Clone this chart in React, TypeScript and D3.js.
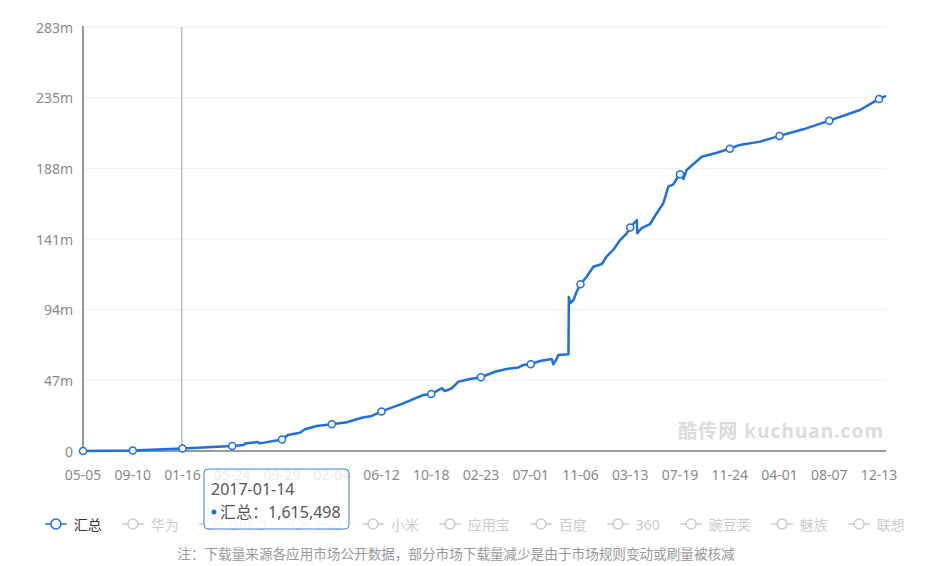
import React, { useEffect, useRef } from "react";
import * as d3 from "d3";

// ---- data (values in millions of downloads) ----
const dates = [
  "2016-05-05", "2016-09-10", "2017-01-14", "2017-01-16", "2017-05-24", "2017-06-23", "2017-06-26",
  "2017-07-29", "2017-08-03", "2017-09-29", "2017-10-14", "2017-11-14", "2017-11-27", "2017-12-27",
  "2018-02-04", "2018-03-15", "2018-04-22", "2018-05-18", "2018-06-12", "2018-08-07", "2018-09-28",
  "2018-10-18", "2018-11-14", "2018-11-22", "2018-12-10", "2018-12-27", "2019-01-26", "2019-02-23",
  "2019-03-31", "2019-04-30", "2019-05-30", "2019-06-12", "2019-07-01", "2019-07-25", "2019-08-24",
  "2019-08-28", "2019-09-04", "2019-09-10", "2019-10-06", "2019-10-07", "2019-10-10", "2019-10-19",
  "2019-10-27", "2019-11-06", "2019-11-22", "2019-12-09", "2019-12-31", "2020-01-12", "2020-01-29",
  "2020-02-16", "2020-03-04", "2020-03-13", "2020-03-30", "2020-03-31", "2020-04-11", "2020-05-03",
  "2020-05-20", "2020-06-06", "2020-06-19", "2020-07-02", "2020-07-11", "2020-07-19", "2020-07-28",
  "2020-08-05", "2020-08-22", "2020-09-13", "2020-10-22", "2020-11-24", "2020-12-20", "2021-02-10",
  "2021-04-01", "2021-06-01", "2021-08-07", "2021-10-25", "2021-12-13", "2021-12-31",
];
const totals = [
  0.02, 0.3, 1.615498, 1.64, 3.3, 4.0, 5.0,
  6.0, 5.1, 7.7, 10.7, 12.2, 14.5, 16.7,
  17.8, 19.2, 22.2, 23.4, 26.4, 31.8, 37.4,
  38.0, 41.9, 40.0, 41.9, 46.3, 48.1, 49.2,
  52.9, 54.7, 55.8, 57.4, 57.9, 60.1, 61.4,
  57.9, 60.7, 64.1, 64.5, 102.8, 98.6, 100.8,
  106.3, 111.3, 116.3, 123.0, 124.8, 129.7, 134.2,
  140.8, 145.3, 149.2, 154.2, 145.3, 148.7, 151.5,
  158.7, 165.3, 176.4, 178.0, 182.0, 184.7, 181.6,
  187.6, 191.4, 196.4, 199.1, 201.8, 204.3, 206.5,
  210.3, 214.7, 220.5, 227.6, 235.0, 237.0,
];
const xTickDates = [
  "2016-05-05", "2016-09-10", "2017-01-16", "2017-05-24", "2017-09-29", "2018-02-04",
  "2018-06-12", "2018-10-18", "2019-02-23", "2019-07-01", "2019-11-06", "2020-03-13",
  "2020-07-19", "2020-11-24", "2021-04-01", "2021-08-07", "2021-12-13",
];
const yTickValues = [0, 47.1667, 94.3333, 141.5, 188.6667, 235.8333, 283];
const yTickLabels = ["0", "47m", "94m", "141m", "188m", "235m", "283m"];
const legendNames = ["汇总", "华为", "OPPO", "vivo", "小米", "应用宝", "百度", "360", "豌豆荚", "魅族", "联想"];
const tooltipDate = "2017-01-14";
const tooltipSeries = "汇总";
const tooltipValue = 1615498;
const watermark = "酷传网 kuchuan.com";
const footnote = "注：下载量来源各应用市场公开数据，部分市场下载量减少是由于市场规则变动或刷量被核减";

const BLUE = "#1f6fdf";
const FONT = "'Noto Sans', 'Noto Sans CJK SC', sans-serif";

export default function App() {
  const ref = useRef<SVGSVGElement | null>(null);

  useEffect(() => {
    const svg = d3.select(ref.current);
    svg.selectAll("*").remove();
    const parse = d3.utcParse("%Y-%m-%d");
    const data = dates.map((d, i) => ({ date: parse(d) as Date, value: totals[i] }));

    const left = 83, right = 886, top = 27, bottom = 451;
    const x = d3.scaleUtc()
      .domain([data[0].date, data[data.length - 1].date])
      .range([left, right]);
    const y = d3.scaleLinear().domain([0, 283]).range([bottom, top]);

    // grid
    svg.append("g").selectAll("line").data(yTickValues.slice(1)).join("line")
      .attr("x1", left).attr("x2", right)
      .attr("y1", (d) => y(d)).attr("y2", (d) => y(d))
      .attr("stroke", "#f0f0f0").attr("stroke-width", 1);

    // y labels
    svg.append("g").selectAll("text").data(yTickValues).join("text")
      .attr("x", 73).attr("y", (d) => y(d))
      .attr("text-anchor", "end").attr("dominant-baseline", "central")
      .attr("font-family", FONT).attr("font-size", 14).attr("fill", "#8a8a8a")
      .text((d, i) => yTickLabels[i]);

    // watermark
    svg.append("text")
      .attr("x", 678).attr("y", 438)
      .attr("font-family", FONT).attr("font-size", 19).attr("font-weight", "bold")
      .attr("fill", "#dcdcdc").attr("textLength", 205).attr("lengthAdjust", "spacing")
      .text(watermark);

    // axes lines
    svg.append("line").attr("x1", left).attr("x2", left).attr("y1", top - 1).attr("y2", bottom)
      .attr("stroke", "#999").attr("stroke-width", 2);
    svg.append("line").attr("x1", left).attr("x2", right).attr("y1", bottom).attr("y2", bottom)
      .attr("stroke", "#999").attr("stroke-width", 2);

    // x labels
    const fmt = d3.utcFormat("%m-%d");
    const tickDates = xTickDates.map((d) => parse(d) as Date);
    svg.append("g").selectAll("text").data(tickDates).join("text")
      .attr("x", (d) => x(d)).attr("y", 474)
      .attr("text-anchor", "middle").attr("dominant-baseline", "central")
      .attr("font-family", FONT).attr("font-size", 14).attr("fill", "#8a8a8a")
      .text((d) => fmt(d));

    // crosshair
    const tipDate = parse(tooltipDate) as Date;
    svg.append("line").attr("x1", x(tipDate)).attr("x2", x(tipDate))
      .attr("y1", top).attr("y2", bottom)
      .attr("stroke", "#bbb").attr("stroke-width", 1.5);

    // line
    const line = d3.line<{ date: Date; value: number }>()
      .x((d) => x(d.date)).y((d) => y(d.value));
    svg.append("path").datum(data)
      .attr("d", line).attr("fill", "none")
      .attr("stroke", BLUE).attr("stroke-width", 2.5).attr("stroke-linejoin", "round");

    // markers at tick dates
    const tickSet = new Set(xTickDates);
    const markers = data.filter((d, i) => tickSet.has(dates[i]));
    svg.append("g").selectAll("circle").data(markers).join("circle")
      .attr("cx", (d) => x(d.date)).attr("cy", (d) => y(d.value)).attr("r", 3.5)
      .attr("fill", "#fff").attr("stroke", BLUE).attr("stroke-width", 1.5);

    // legend
    const lg = svg.append("g");
    const items = legendNames.map((name, i) => {
      const g = lg.append("g");
      const col = i === 0 ? BLUE : "#cccccc";
      g.append("line").attr("x1", 0).attr("x2", 21.5).attr("y1", 0).attr("y2", 0)
        .attr("stroke", col).attr("stroke-width", 1.5);
      g.append("circle").attr("cx", 10.75).attr("cy", 0).attr("r", 5)
        .attr("fill", "#fff").attr("stroke", col).attr("stroke-width", 1.5);
      const t = g.append("text").attr("x", 28.5).attr("y", 0)
        .attr("dominant-baseline", "central")
        .attr("font-family", FONT).attr("font-size", 14)
        .attr("fill", i === 0 ? "#333" : "#cccccc").text(name);
      const w = 28.5 + (t.node() as SVGTextElement).getComputedTextLength();
      return { g, w };
    });
    const gap = 20.5;
    const total = d3.sum(items, (d) => d.w) + gap * (items.length - 1);
    let cx = 475 - total / 2;
    items.forEach((it) => {
      it.g.attr("transform", `translate(${cx},524)`);
      cx += it.w + gap;
    });

    // footnote
    svg.append("text").attr("x", 456).attr("y", 553)
      .attr("text-anchor", "middle").attr("dominant-baseline", "central")
      .attr("font-family", FONT).attr("font-size", 13.6).attr("fill", "#999")
      .text(footnote);

    // tooltip
    const tg = svg.append("g").attr("transform", "translate(204,469)");
    tg.append("rect").attr("x", 0).attr("y", 0).attr("width", 145).attr("height", 60).attr("rx", 4)
      .attr("fill", "rgba(255,255,255,0.82)").attr("stroke", "#3d7fd9").attr("stroke-width", 1);
    tg.append("text").attr("x", 7).attr("y", 20)
      .attr("dominant-baseline", "central")
      .attr("font-family", FONT).attr("font-size", 16).attr("fill", "#555")
      .text(tooltipDate);
    tg.append("circle").attr("cx", 10).attr("cy", 43).attr("r", 2.5).attr("fill", BLUE);
    tg.append("text").attr("x", 16).attr("y", 43)
      .attr("dominant-baseline", "central")
      .attr("font-family", FONT).attr("font-size", 16).attr("fill", "#555")
      .text(`${tooltipSeries}：${d3.format(",")(tooltipValue)}`);
  }, []);

  return (
    <svg ref={ref} width={950} height={566}
      style={{ position: "absolute", left: 0, top: 0, background: "#fff" }} />
  );
}
